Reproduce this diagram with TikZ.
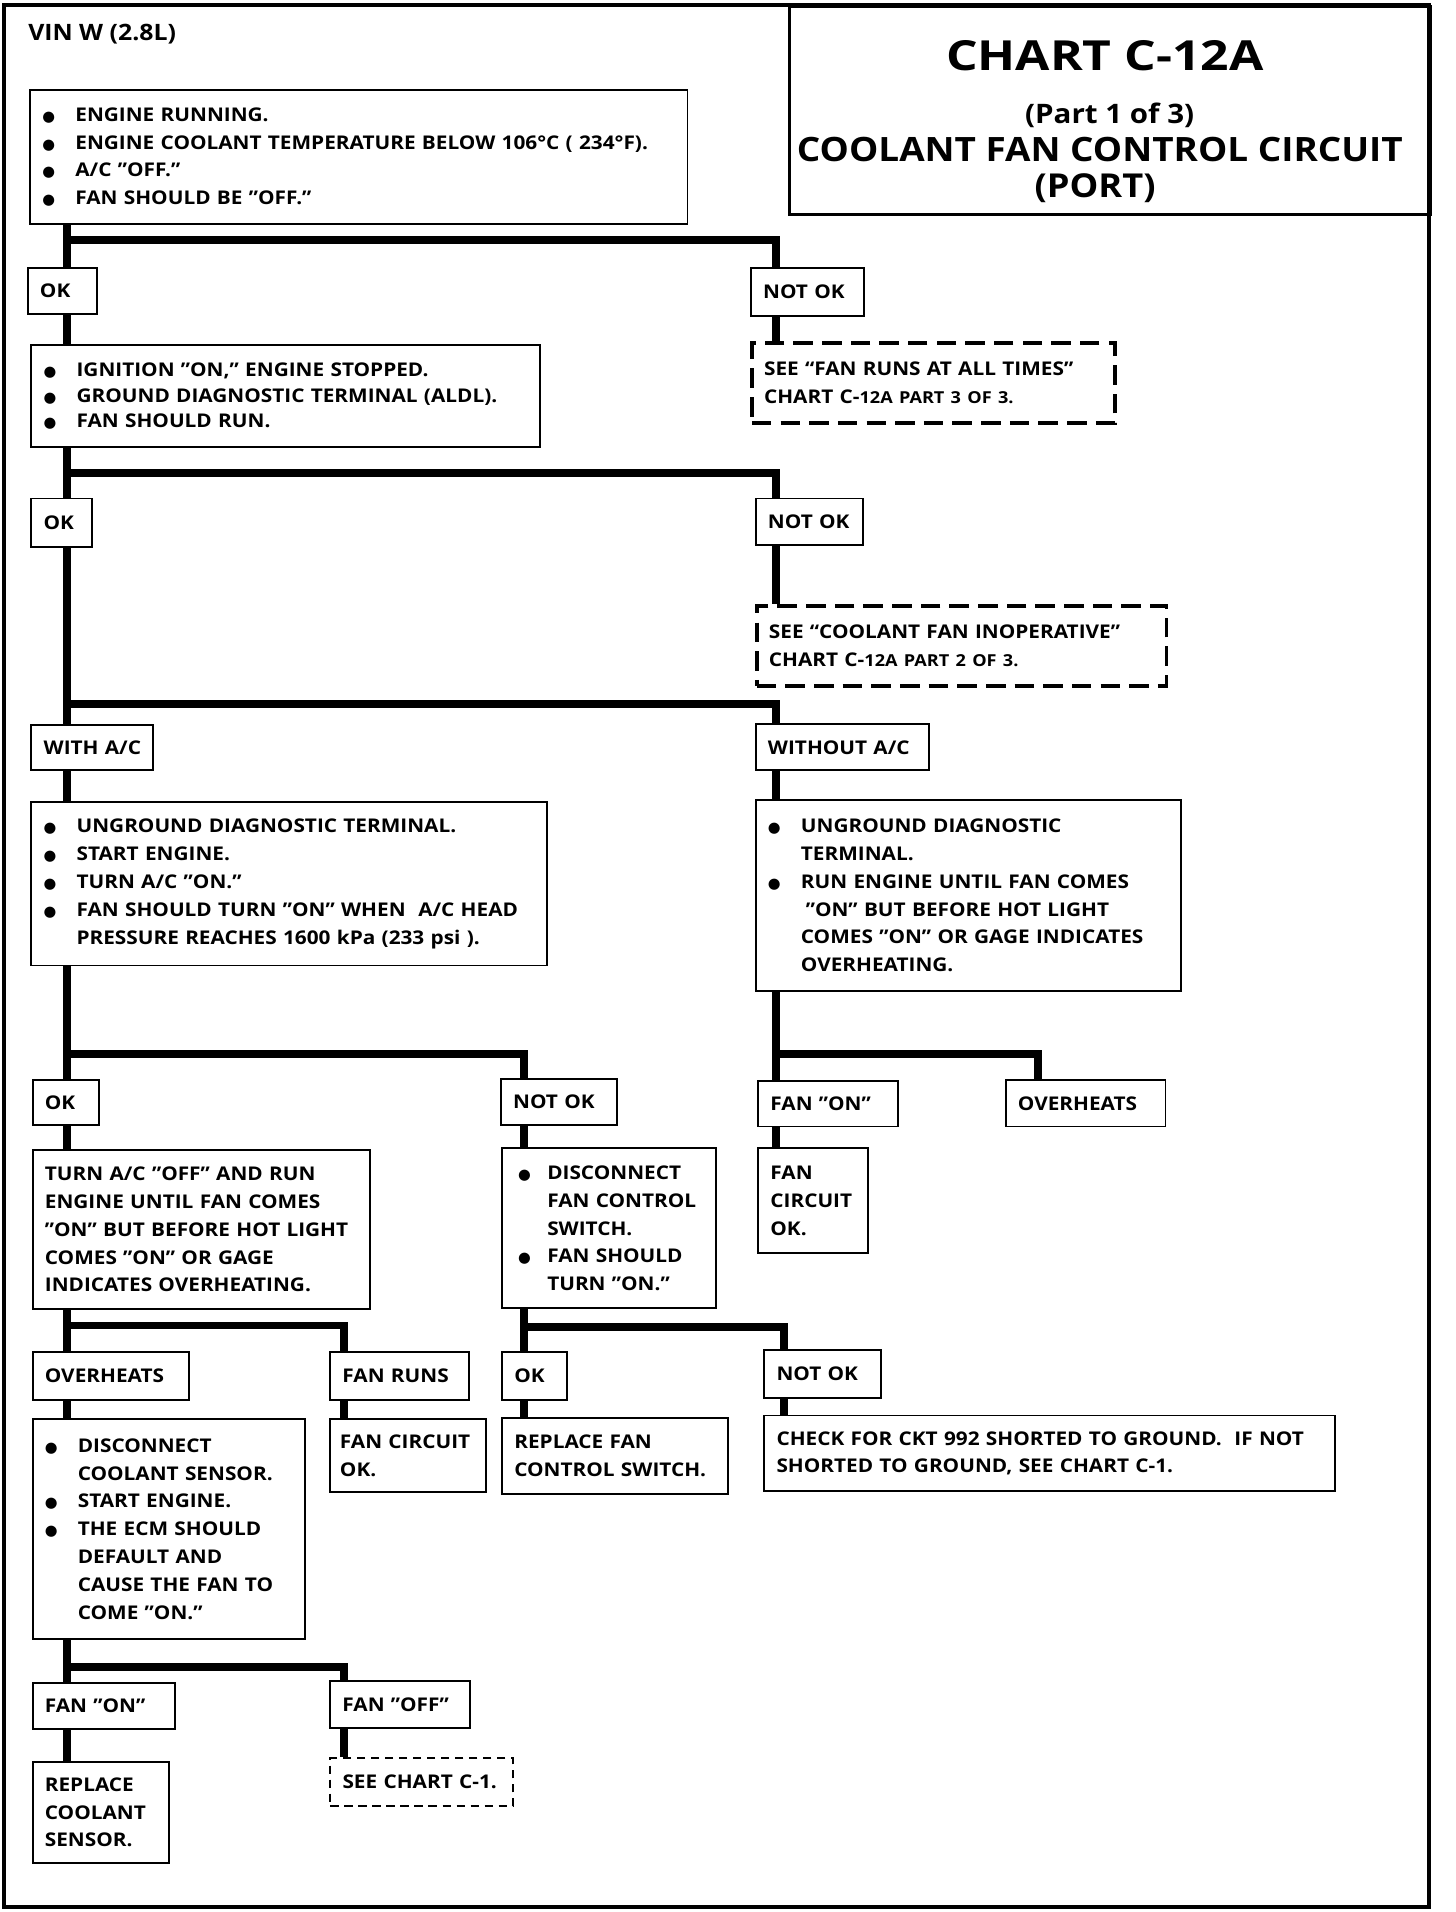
\documentclass[tikz,border=0pt]{standalone}
\usepackage{fontspec}
\setmainfont{Open Sans}
\newfontfamily\bodyf{Open Sans}[FakeStretch=1.1, Ligatures=TeX]
\newfontfamily\ttlf{Open Sans}[FakeStretch=1.2, Ligatures=TeX]
\newfontfamily\symf{DejaVu Sans}
\newcommand\bodyfont{\bodyf\fontsize{15.5}{22.8}\selectfont\bfseries\hyphenpenalty=10000\exhyphenpenalty=10000}
\newcommand\bdot{{\symf\fontsize{12}{12}\selectfont\raisebox{0pt}{●}}}
\newcommand\bu[1][0pt]{\makebox[27pt][l]{\hspace{#1}\bdot}}
\newcommand\ind{\hspace*{27pt}}
\newcommand\smallpart[1]{{\fontsize{13.5}{13.5}\selectfont #1}}
\begin{document}
\begin{tikzpicture}[x=1pt,y=1pt,
  box/.style={draw, line width=1.6pt, anchor=north west, inner xsep=10pt, inner ysep=0pt,
              align=left, font=\bodyfont, fill=white},
  dboxA/.style={box, line width=3.2pt, dash pattern=on 16pt off 7.5pt},
  dboxB/.style={box, line width=1.8pt, dash pattern=on 7pt off 4.5pt},
  conn/.style={line width=6.5pt, line join=miter},
  frame/.style={line width=3.2pt},
  ttl/.style={inner sep=0pt}
]
\useasboundingbox (0,0) rectangle (1194,-1568);
\draw[frame] (3,-4) rectangle (1172,-1564);

% title
\node[draw, line width=2.5pt, anchor=north west, minimum width=526pt, minimum height=171pt, inner sep=0pt] (titlebox) at (646,-4) {};
\node[ttl, font=\ttlf\fontsize{34}{34}\selectfont\bfseries] (t1) at (906,-46) {CHART C-12A};
\node[ttl, font=\bodyf\fontsize{22}{22}\selectfont\bfseries] (t2) at (910,-95) {(Part 1 of 3)};
\node[ttl, font=\bodyf\fontsize{27.5}{27.5}\selectfont\bfseries] (t3) at (902,-123) {COOLANT FAN CONTROL CIRCUIT};
\node[ttl, font=\bodyf\fontsize{27}{27}\selectfont\bfseries] (t4) at (898,-154) {(PORT)};
\node[ttl, anchor=west, font=\bodyf\fontsize{18.5}{18.5}\selectfont\bfseries] (vin) at (23,-28) {VIN W (2.8L)};

% boxes
\node[box, minimum width=539pt, text width=519pt, minimum height=110pt] (b1) at (24,-73)
 {\bu ENGINE RUNNING.\\ \bu ENGINE COOLANT TEMPERATURE BELOW 106°C ( 234°F).\\ \bu A/C "OFF."\\ \bu FAN SHOULD BE "OFF."};
\node[box, minimum width=57pt, text width=37pt, minimum height=38pt] (ok1) at (22,-219) {\mbox{OK}};
\node[box, minimum width=93pt, text width=73pt, minimum height=39pt] (nok1) at (615,-219) {\mbox{NOT OK}};
\node[dboxA, minimum width=298pt, text width=278pt, minimum height=65pt] (d1) at (615,-280)
 {SEE “FAN RUNS AT ALL TIMES”\\ CHART C-\smallpart{12A PART 3 OF 3.}};
\node[box, minimum width=417pt, text width=397pt, minimum height=84pt, font=\bodyf\fontsize{15.5}{21}\selectfont\bfseries] (b2) at (25,-282)
 {\bu IGNITION "ON," ENGINE STOPPED.\\ \bu GROUND DIAGNOSTIC TERMINAL (ALDL).\\ \bu FAN SHOULD RUN.};
\node[box, minimum width=50pt, text width=30pt, minimum height=40pt] (ok2) at (25,-408) {\mbox{OK}};
\node[box, minimum width=88pt, text width=68pt, minimum height=38pt] (nok2) at (619,-408) {\mbox{NOT OK}};
\node[dboxA, minimum width=336pt, text width=316pt, minimum height=66pt] (d2) at (619,-495)
 {SEE “COOLANT FAN INOPERATIVE”\\ CHART C-\smallpart{12A PART 2 OF 3.}};
\node[box, minimum width=100pt, text width=80pt, minimum height=37pt] (with) at (25,-594) {\mbox{WITH A/C}};
\node[box, minimum width=142pt, text width=122pt, minimum height=38pt] (without) at (619,-593) {\mbox{WITHOUT A/C}};
\node[box, minimum width=423pt, text width=403pt, minimum height=134pt] (wd) at (25,-657)
 {\bu UNGROUND DIAGNOSTIC TERMINAL.\\ \bu START ENGINE.\\ \bu TURN A/C "ON."\\ \bu \mbox{FAN SHOULD TURN "ON" WHEN\ \ A/C HEAD}\\ \ind PRESSURE REACHES 1600 kPa (233 psi ).};
\node[box, minimum width=349pt, text width=329pt, minimum height=157pt] (wod) at (619,-655)
 {\bu UNGROUND DIAGNOSTIC\\ \ind TERMINAL.\\ \bu RUN ENGINE UNTIL FAN COMES\\ \ind\hspace*{4pt}"ON" BUT BEFORE HOT LIGHT\\ \ind \mbox{COMES "ON" OR GAGE INDICATES}\\ \ind OVERHEATING.};
\node[box, minimum width=54pt, text width=34pt, minimum height=37pt] (ok3) at (26,-885) {\mbox{OK}};
\node[box, minimum width=95pt, text width=75pt, minimum height=38pt] (nok3) at (410,-884) {\mbox{NOT OK}};
\node[box, minimum width=115pt, text width=95pt, minimum height=37pt] (fon1) at (621,-886) {\mbox{FAN "ON"}};
\node[box, minimum width=131pt, text width=111pt, minimum height=38pt] (ovh1) at (824,-885) {\mbox{OVERHEATS}};
\node[box, minimum width=90pt, text width=70pt, minimum height=86pt] (fco1) at (621,-941) {FAN\\ CIRCUIT\\ OK.};
\node[box, minimum width=277pt, text width=257pt, minimum height=131pt] (turn) at (26,-942)
 {TURN A/C "OFF" AND RUN\\ ENGINE UNTIL FAN COMES\\ \mbox{"ON" BUT BEFORE HOT LIGHT}\\ COMES "ON" OR GAGE\\ INDICATES OVERHEATING.};
\node[box, minimum width=175pt, text width=155pt, minimum height=131pt] (disc) at (411,-941)
 {\bu[3pt]DISCONNECT\\ \ind \mbox{FAN CONTROL}\\ \ind SWITCH.\\ \bu[3pt]FAN SHOULD\\ \ind TURN "ON."};
\node[box, minimum width=128pt, text width=108pt, minimum height=39pt] (ovh2) at (26,-1108) {\mbox{OVERHEATS}};
\node[box, minimum width=114pt, text width=94pt, minimum height=39pt] (fruns) at (270,-1108) {\mbox{FAN RUNS}};
\node[box, minimum width=53pt, text width=33pt, minimum height=39pt] (ok4) at (411,-1108) {\mbox{OK}};
\node[box, minimum width=96pt, text width=76pt, minimum height=40pt] (nok4) at (626,-1106) {\mbox{NOT OK}};
\node[box, inner xsep=8pt, minimum width=128pt, text width=112pt, minimum height=60pt] (fco2) at (270,-1163) {\mbox{FAN CIRCUIT}\\ OK.};
\node[box, minimum width=185pt, text width=165pt, minimum height=62pt] (repf) at (411,-1162) {REPLACE FAN\\ \mbox{CONTROL SWITCH.}};
\node[box, minimum width=468pt, text width=448pt, minimum height=62pt] (check) at (626,-1160)
 {\mbox{CHECK FOR CKT 992 SHORTED TO GROUND.\ \ IF NOT}\\ SHORTED TO GROUND, SEE CHART C-1.};
\node[box, minimum width=223pt, text width=203pt, minimum height=180pt] (dcool) at (26,-1163)
 {\bu DISCONNECT\\ \ind COOLANT SENSOR.\\ \bu START ENGINE.\\ \bu THE ECM SHOULD\\ \ind DEFAULT AND\\ \ind CAUSE THE FAN TO\\ \ind COME "ON."};
\node[box, minimum width=117pt, text width=97pt, minimum height=38pt] (fon2) at (26,-1379) {\mbox{FAN "ON"}};
\node[box, minimum width=115pt, text width=95pt, minimum height=38pt] (foff) at (270,-1378) {\mbox{FAN "OFF"}};
\node[box, minimum width=112pt, text width=92pt, minimum height=83pt] (repc) at (26,-1444) {REPLACE\\ COOLANT\\ SENSOR.};
\node[dboxB, minimum width=150pt, text width=130pt, minimum height=39pt] (d3) at (270,-1441) {\mbox{SEE CHART C-1.}};

% connector x positions
\coordinate (xL) at (55,0);
\coordinate (xR) at (636,0);
\coordinate (xM) at (430,0);
\coordinate (xB) at (282,0);
\coordinate (xN) at (643,0);
\coordinate (xO) at (851,0);
\coordinate (j1) at (55,-197);
\coordinate (j2) at (55,-388);
\coordinate (j3) at (55,-577);
\coordinate (j4) at (55,-864);
\coordinate (j5) at (636,-864);
\coordinate (j6) at (55,-1087);
\coordinate (j7) at (430,-1088);
\coordinate (j8) at (55,-1367);

\draw[conn] (b1.south -| xL) -- (ok1.north -| xL);
\draw[conn] (j1) -| (nok1.north -| xR);
\draw[conn] (nok1.south -| xR) -- (d1.north -| xR);
\draw[conn] (ok1.south -| xL) -- (b2.north -| xL);
\draw[conn] (b2.south -| xL) -- (ok2.north -| xL);
\draw[conn] (j2) -| (nok2.north -| xR);
\draw[conn] (nok2.south -| xR) -- (d2.north -| xR);
\draw[conn] (ok2.south -| xL) -- (with.north -| xL);
\draw[conn] (j3) -| (without.north -| xR);
\draw[conn] (with.south -| xL) -- (wd.north -| xL);
\draw[conn] (without.south -| xR) -- (wod.north -| xR);
\draw[conn] (wd.south -| xL) -- (ok3.north -| xL);
\draw[conn] (j4) -| (nok3.north -| xM);
\draw[conn] (wod.south -| xR) -- (fon1.north -| xR);
\draw[conn] (j5) -| (ovh1.north -| xO);
\draw[conn] (fon1.south -| xR) -- (fco1.north -| xR);
\draw[conn] (ok3.south -| xL) -- (turn.north -| xL);
\draw[conn] (nok3.south -| xM) -- (disc.north -| xM);
\draw[conn] (turn.south -| xL) -- (ovh2.north -| xL);
\draw[conn] (j6) -| (fruns.north -| xB);
\draw[conn] (ovh2.south -| xL) -- (dcool.north -| xL);
\draw[conn] (fruns.south -| xB) -- (fco2.north -| xB);
\draw[conn] (disc.south -| xM) -- (ok4.north -| xM);
\draw[conn] (j7) -| (nok4.north -| xN);
\draw[conn] (ok4.south -| xM) -- (repf.north -| xM);
\draw[conn] (nok4.south -| xN) -- (check.north -| xN);
\draw[conn] (dcool.south -| xL) -- (fon2.north -| xL);
\draw[conn] (j8) -| (foff.north -| xB);
\draw[conn] (fon2.south -| xL) -- (repc.north -| xL);
\draw[conn] (foff.south -| xB) -- (d3.north -| xB);
\end{tikzpicture}
\end{document}
